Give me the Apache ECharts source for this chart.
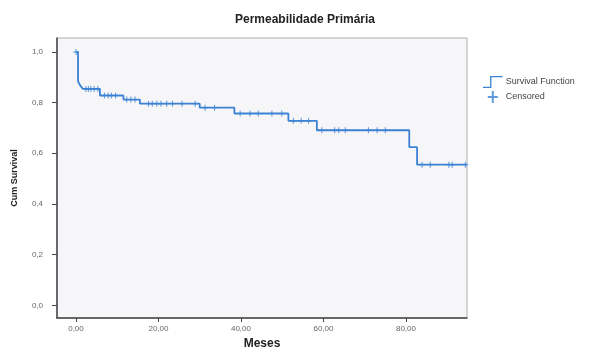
<!DOCTYPE html>
<html>
<head>
<meta charset="utf-8">
<script src="https://cdn.jsdelivr.net/npm/echarts@6/dist/echarts.min.js"></script>
<style>
  html, body { margin: 0; padding: 0; background: #fff; }
  #chart { width: 606px; height: 355px; }
</style>
</head>
<body>
<div id="chart"></div>
<script>
// Kaplan-Meier steps (months, cumulative survival after the event)
const stepTimes = [0, 0.5, 0.9, 1.3, 1.7, 5.8, 11.5, 15.5, 30.0, 38.4, 51.5, 58.4, 80.8, 82.7, 94.8]
const stepSurv = [1.0, 0.884, 0.871, 0.862, 0.854, 0.828, 0.812, 0.796, 0.780, 0.757, 0.728, 0.691, 0.624, 0.555, 0.555]

// censored observations (months)
const censorTimes = [0, 2.4, 3.0, 3.6, 4.4, 5.3, 6.9, 7.8, 8.6, 9.6, 12.3, 13.3, 14.3,
  17.6, 18.5, 19.6, 20.6, 22.0, 23.4, 25.7, 28.9, 31.3, 33.6,
  39.8, 42.2, 44.2, 47.5, 49.9, 52.7, 54.6, 56.4,
  59.6, 62.7, 63.7, 65.3, 70.9, 73.0, 75.0,
  83.9, 85.9, 90.4, 91.2, 94.4]

const xTicks = [0, 20, 40, 60, 80]
const yTicks = [0, 0.2, 0.4, 0.6, 0.8, 1.0]

const blue = '#3b82d4'
const plus = 'path://M-0.7,-4 L0.7,-4 L0.7,-0.7 L4,-0.7 L4,0.7 L0.7,0.7 L0.7,4 L-0.7,4 L-0.7,0.7 L-4,0.7 L-4,-0.7 L-0.7,-0.7 Z'

function survAt(t) {
  let s = stepSurv[0]
  for (let i = 0; i < stepTimes.length; i++) {
    if (stepTimes[i] <= t) s = stepSurv[i]
  }
  return s
}

const chart = echarts.init(document.getElementById('chart'))

chart.setOption({
  backgroundColor: '#fff',
  animation: false,
  title: {
    text: 'Permeabilidade Primária',
    left: 300, top: 9, textAlign: 'center',
    textStyle: { fontFamily: 'Liberation Sans', fontSize: 12, fontWeight: 'bold', color: '#222' },
  },
  legend: {
    orient: 'vertical', left: 478, top: 71, itemGap: 3, itemWidth: 20, itemHeight: 12,
    textStyle: { fontFamily: 'Liberation Sans', fontSize: 9, color: '#444', padding: [0, 0, 0, -2] },
    data: [
      { name: 'Survival Function', icon: 'path://M0,12 L8,12 L8,0 L22,0 L22,1.5 L9.5,1.5 L9.5,13.5 L0,13.5 Z' },
      { name: 'Censored', icon: 'path://M10,0 L12,0 L12,5 L16,5 L16,7 L12,7 L12,12 L10,12 L10,7 L6,7 L6,5 L10,5 Z' },
    ],
  },
  grid: {
    left: 57, right: 139, top: 38, bottom: 34,
    show: true, backgroundColor: '#f6f6f8', borderColor: '#b0b0b0', borderWidth: 1,
  },
  xAxis: {
    type: 'value', min: -4.6, max: 94.8,
    name: 'Meses', nameLocation: 'middle', nameGap: 20,
    nameTextStyle: { fontFamily: 'Liberation Sans', fontSize: 12, fontWeight: 'bold', color: '#222' },
    axisLine: { show: true, onZero: false, lineStyle: { color: '#444', width: 1.5 } },
    axisTick: { show: true, length: 4, customValues: xTicks, lineStyle: { color: '#444' } },
    axisLabel: {
      customValues: xTicks, fontSize: 8, color: '#666', margin: 7,
      formatter: v => v.toFixed(2).replace('.', ','),
    },
    splitLine: { show: false },
  },
  yAxis: {
    type: 'value', min: -0.05, max: 1.055,
    name: 'Cum Survival', nameLocation: 'middle', nameGap: 38, nameRotate: 90,
    nameTextStyle: { fontFamily: 'Liberation Sans', fontSize: 9, fontWeight: 'bold', color: '#222' },
    axisLine: { show: true, onZero: false, lineStyle: { color: '#444', width: 1.5 } },
    axisTick: { show: true, length: 5, customValues: yTicks, lineStyle: { color: '#444' } },
    axisLabel: {
      customValues: yTicks, fontSize: 8, color: '#666', margin: 14,
      formatter: v => v.toFixed(1).replace('.', ','),
    },
    splitLine: { show: false },
  },
  series: [
    {
      name: 'Survival Function',
      type: 'line',
      step: 'end',
      showSymbol: false,
      data: stepTimes.map((t, i) => [t, stepSurv[i]]),
      lineStyle: { color: blue, width: 1.8 },
      itemStyle: { color: blue },
    },
    {
      name: 'Censored',
      type: 'scatter',
      symbol: plus,
      symbolSize: 6,
      data: censorTimes.map(t => [t, survAt(t)]),
      itemStyle: { color: blue },
    },
  ],
})
</script>
</body>
</html>
